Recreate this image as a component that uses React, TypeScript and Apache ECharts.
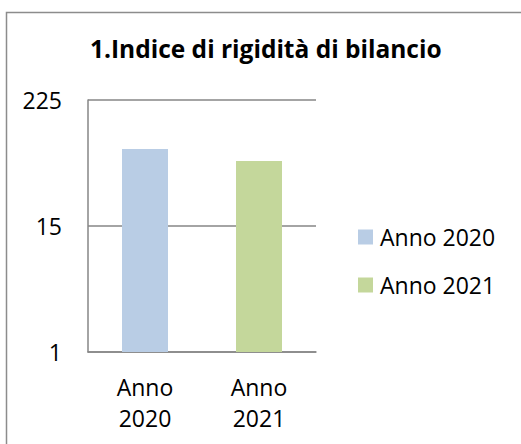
import React, { useEffect, useRef } from "react";
import * as echarts from "echarts";

const title = "1.Indice di rigidità di bilancio";
const categories = ["Anno\n2020", "Anno\n2021"];
const seriesNames = ["Anno 2020", "Anno 2021"];
const values2020 = [78.5, "-"];
const values2021 = ["-", 60.6];
const colors = ["#B9CDE5", "#C4D79B"];

export default function App() {
  const ref = useRef<HTMLDivElement>(null);
  useEffect(() => {
    const chart = echarts.init(ref.current!, null, { renderer: "svg" });
    const font = "Open Sans";
    chart.setOption({
      animation: false,
      backgroundColor: "#fff",
      title: {
        text: title,
        left: 85,
        top: 31,
        textStyle: { fontFamily: font, fontWeight: "bold", fontSize: 24.5, color: "#000" },
      },
      legend: {
        orient: "vertical",
        left: 353,
        top: 220.5,
        itemWidth: 15,
        itemHeight: 15,
        itemGap: 25,
        icon: "rect",
        data: seriesNames,
        textStyle: { fontFamily: font, fontSize: 23, color: "#000", padding: [0, 0, 0, 2] },
      },
      graphic: [
        {
          type: "rect",
          shape: { x: 6.5, y: 12.5, width: 600, height: 600 },
          style: { fill: "none", stroke: "#8c8c8c", lineWidth: 1.5 },
          silent: true,
        },
      ],
      grid: { left: 88, top: 100, width: 228, height: 252, containLabel: false },
      xAxis: {
        type: "category",
        data: categories,
        axisLine: { show: true, lineStyle: { color: "#868686", width: 1.5 } },
        axisTick: { show: false },
        axisLabel: {
          fontFamily: font,
          fontSize: 23,
          color: "#000",
          lineHeight: 31,
          margin: 19,
        },
      },
      yAxis: {
        type: "log",
        logBase: 15,
        min: 1,
        max: 225,
        axisLine: { show: true, lineStyle: { color: "#868686", width: 1.5 } },
        axisTick: { show: false },
        splitLine: { show: true, lineStyle: { color: "#868686", width: 1.5 } },
        axisLabel: { fontFamily: font, fontSize: 23, color: "#000", margin: 26 },
      },
      series: [
        {
          name: seriesNames[0],
          type: "bar",
          data: values2020,
          barWidth: 46,
          barGap: "-100%",
          itemStyle: { color: colors[0] },
        },
        {
          name: seriesNames[1],
          type: "bar",
          data: values2021,
          barWidth: 46,
          itemStyle: { color: colors[1] },
        },
      ],
    });
    return () => chart.dispose();
  }, []);
  return (
    <div
      ref={ref}
      style={{ position: "fixed", left: 0, top: 0, width: 521, height: 444 }}
    />
  );
}
